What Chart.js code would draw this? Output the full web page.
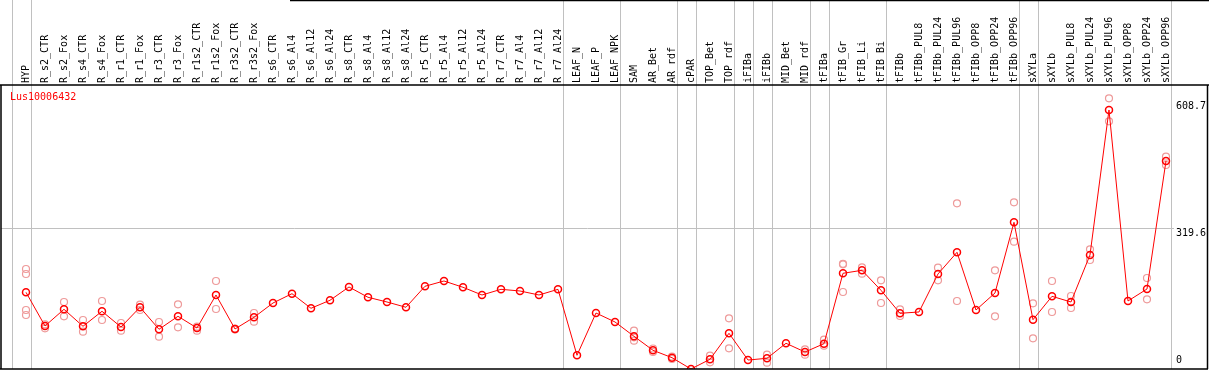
<!DOCTYPE html>
<html>
<head>
<meta charset="utf-8">
<script src="https://cdn.jsdelivr.net/npm/chart.js@4.4.1/dist/chart.umd.min.js"></script>
<style>
  html, body { margin: 0; padding: 0; background: #fff; }
  canvas { display: block; }
</style>
</head>
<body>
<canvas id="chart" width="1209" height="370"></canvas>
<script>
const geneName = 'Lus10006432';

const categories = [
    'HYP', 'R_s2_CTR', 'R_s2_Fox', 'R_s4_CTR', 'R_s4_Fox', 'R_r1_CTR', 'R_r1_Fox', 'R_r3_CTR', 'R_r3_Fox',
    'R_r1s2_CTR', 'R_r1s2_Fox', 'R_r3s2_CTR', 'R_r3s2_Fox', 'R_s6_CTR', 'R_s6_Al4', 'R_s6_Al12', 'R_s6_Al24',
    'R_s8_CTR', 'R_s8_Al4', 'R_s8_Al12', 'R_s8_Al24', 'R_r5_CTR', 'R_r5_Al4', 'R_r5_Al12', 'R_r5_Al24',
    'R_r7_CTR', 'R_r7_Al4', 'R_r7_Al12', 'R_r7_Al24', 'LEAF_N', 'LEAF_P', 'LEAF_NPK', 'SAM', 'AR_Bet', 'AR_rdf',
    'cPAR', 'TOP_Bet', 'TOP_rdf', 'iFIBa', 'iFIBb', 'MID_Bet', 'MID_rdf', 'tFIBa', 'tFIB_Gr', 'tFIB_Li', 'tFIB_Bi',
    'tFIBb', 'tFIBb_PUL8', 'tFIBb_PUL24', 'tFIBb_PUL96', 'tFIBb_OPP8', 'tFIBb_OPP24', 'tFIBb_OPP96',
    'sXYLa', 'sXYLb', 'sXYLb_PUL8', 'sXYLb_PUL24', 'sXYLb_PUL96', 'sXYLb_OPP8', 'sXYLb_OPP24', 'sXYLb_OPP96'
];

const means = [
    174.2, 97.7, 135.6, 97.0, 131.1, 95.4, 140.2, 90.2, 119.7,
    93.1, 168.1, 90.9, 117.4, 149.9, 171.1, 137.9, 156.1,
    186.3, 162.9, 152.2, 140.2, 187.9, 199.9, 185.6, 168.1,
    181.0, 177.2, 168.1, 181.0, 31.1, 127.2, 106.8, 74.3, 42.5, 25.7,
    0, 22.0, 81.1, 20.4, 24.3, 58.4, 38.6, 57.5, 217.4, 224.2, 178.8,
    126.5, 129.5, 215.8, 265.1, 134.0, 172.6, 333.2,
    112.0, 165.1, 152.2, 259.0, 588.3, 154.5, 181.7, 472.5
];

const replicates = [
    [227.2, 215.8, 134.0, 122.7], [101.5, 92.5], [152.2, 119.7], [111.3, 84.7], [154.5, 111.3],
    [104.5, 87.0], [146.1, 134.0], [106.8, 73.4], [147.0, 94.7],
    [96.1, 87.0], [199.9, 136.3], [92.0, 90.0], [127.2, 107.4], [], [], [], [],
    [], [], [], [], [], [], [], [],
    [], [], [], [], [], [], [], [87.0, 64.3, 72.0], [46.6, 38.6], [28.4, 22.7],
    [], [30.2, 15.2], [115.2, 47.0], [], [32.5, 14.3], [], [44.8, 32.5], [66.6, 52.9],
    [237.8, 239.0, 174.9], [231.0, 216.5], [201.5, 149.9],
    [135.6, 120.4], [], [230.1, 201.5], [376.4, 154.5], [], [224.2, 119.7], [378.7, 289.2],
    [149.2, 69.7], [199.9, 129.5], [165.8, 138.6], [271.9, 247.6], [614.9, 562.7], [], [206.7, 158.3], [482.3, 463.4]
];

const yTicks = [0, 319.6, 608.7];

// last category index of each group; a grey rule is drawn just after it
const groupEnds = [-1, 0, 28, 31, 34, 35, 37, 38, 39, 41, 42, 45, 52, 53, 60];

const monoFont = { family: 'DejaVu Sans Mono', size: 10 };

const meanPoints = means.map((v, i) => ({ x: i, y: v }));
const replicatePoints = [];
replicates.forEach((reps, i) => reps.forEach(v => replicatePoints.push({ x: i, y: v })));

const framePlugin = {
    id: 'frame',
    beforeDatasetsDraw(chart) {
        const { ctx, chartArea, scales } = chart;
        ctx.save();
        ctx.strokeStyle = '#c0c0c0';
        ctx.lineWidth = 1;
        groupEnds.forEach(g => {
            const x = Math.round(scales.x.getPixelForValue(g + 0.24)) + 0.5;
            ctx.beginPath();
            ctx.moveTo(x, 0);
            ctx.lineTo(x, chartArea.bottom);
            ctx.stroke();
        });
        const gy = Math.round(scales.y.getPixelForValue(yTicks[1])) + 0.5;
        ctx.beginPath();
        ctx.moveTo(chartArea.left, gy);
        ctx.lineTo(chartArea.right + 2, gy);
        ctx.stroke();
        ctx.restore();
    },
    afterDraw(chart) {
        const { ctx, chartArea, scales, width } = chart;
        ctx.save();
        ctx.strokeStyle = '#000';
        ctx.lineWidth = 1.5;
        ctx.beginPath();
        ctx.moveTo(0, chartArea.top);
        ctx.lineTo(width, chartArea.top);
        ctx.moveTo(1, chartArea.top);
        ctx.lineTo(1, chartArea.bottom);
        ctx.moveTo(scales.y.right + 0.5, chartArea.top);
        ctx.lineTo(scales.y.right + 0.5, chartArea.bottom);
        ctx.moveTo(0, chartArea.bottom);
        ctx.lineTo(scales.y.right + 1, chartArea.bottom);
        ctx.moveTo(290, 0.5);
        ctx.lineTo(width, 0.5);
        ctx.stroke();

        ctx.font = '10px "DejaVu Sans Mono"';
        ctx.textBaseline = 'middle';
        ctx.textAlign = 'left';
        ctx.fillStyle = '#000';
        yTicks.forEach(t => {
            let y = scales.y.getPixelForValue(t) + 5;
            y = Math.min(y, chartArea.bottom - 9);
            ctx.fillText(String(t), chartArea.right + 4, y);
        });

        ctx.fillStyle = '#ff0000';
        ctx.fillText(geneName, 10, chartArea.top + 12.5);
        ctx.restore();
    }
};

new Chart(document.getElementById('chart'), {
    type: 'line',
    data: {
        datasets: [{
            data: meanPoints,
            borderColor: '#ff0000',
            borderWidth: 1,
            pointRadius: 3.5,
            pointBorderWidth: 1.5,
            pointBorderColor: '#ff0000',
            pointBackgroundColor: 'rgba(0,0,0,0)',
            tension: 0
        }, {
            data: replicatePoints,
            showLine: false,
            pointRadius: 3.5,
            pointBorderWidth: 1.2,
            pointBorderColor: '#ee9a9a',
            pointBackgroundColor: 'rgba(0,0,0,0)'
        }]
    },
    options: {
        responsive: false,
        animation: false,
        layout: { autoPadding: false, padding: { left: 1, right: 2, top: 0, bottom: 1 } },
        plugins: {
            legend: { display: false },
            tooltip: { enabled: false }
        },
        scales: {
            x: {
                type: 'linear',
                position: 'top',
                min: -1.3158,
                max: 60.316,
                grid: { display: false, drawTicks: false },
                border: { display: false },
                afterBuildTicks: axis => {
                    axis.ticks = categories.map((_, i) => ({ value: i }));
                },
                afterFit: axis => {
                    axis.height = 85;
                    axis.paddingLeft = 0;
                    axis.paddingRight = 0;
                },
                ticks: {
                    autoSkip: false,
                    minRotation: 90,
                    maxRotation: 90,
                    padding: 2,
                    labelOffset: 12.5,
                    color: '#000',
                    font: monoFont,
                    callback: v => categories[v] ?? ''
                }
            },
            y: {
                type: 'linear',
                position: 'right',
                min: 0,
                max: 645.1,
                grid: { display: false, drawTicks: false },
                border: { display: false },
                ticks: { display: false },
                afterFit: axis => {
                    axis.width = 35;
                }
            }
        }
    },
    plugins: [framePlugin]
});
</script>
</body>
</html>
